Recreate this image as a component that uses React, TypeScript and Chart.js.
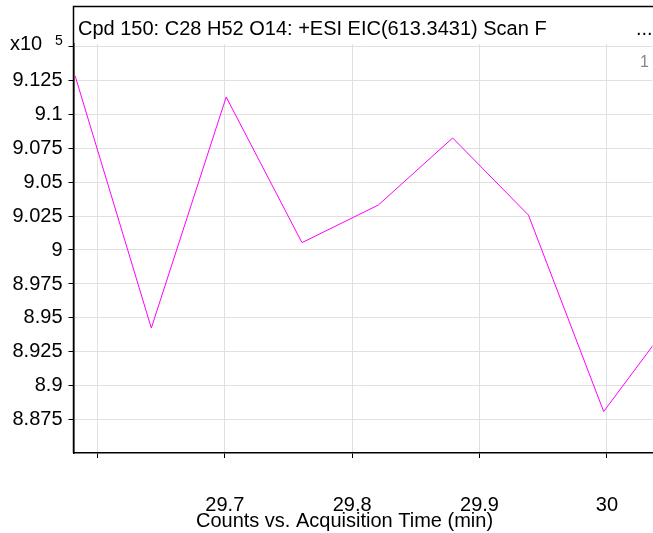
import React, { useEffect, useRef } from "react";
import { Chart, registerables } from "chart.js";

Chart.register(...registerables);

// Acquisition time (min)
const times = [29.5825, 29.6423, 29.7011, 29.7606, 29.8206, 29.8789, 29.9384, 29.9975, 30.0566];
// Counts (x10^5)
const counts = [9.128, 8.9426, 9.1125, 9.0054, 9.0331, 9.0824, 9.0257, 8.8812, 8.9554];

const xTickValues = [29.6, 29.7, 29.8, 29.9, 30];
const xTickLabels = ["", "29.7", "29.8", "29.9", "30"];
const yTickValues = [8.875, 8.9, 8.925, 8.95, 8.975, 9, 9.025, 9.05, 9.075, 9.1, 9.125, 9.15];
const yTickLabels = ["8.875", "8.9", "8.925", "8.95", "8.975", "9", "9.025", "9.05", "9.075", "9.1", "9.125", ""];

const titleText = "Cpd 150: C28 H52 O14: +ESI EIC(613.3431) Scan F";
const xAxisTitle = "Counts vs. Acquisition Time (min)";

const FONT = "'Liberation Sans', Arial, sans-serif";

const framePlugin = {
  id: "framePlugin",
  afterDraw(chart: any) {
    const ctx = chart.ctx;
    const a = chart.chartArea;
    ctx.save();
    ctx.strokeStyle = "#000";
    ctx.lineWidth = 1.5;
    ctx.beginPath();
    ctx.moveTo(a.left, a.bottom);
    ctx.lineTo(a.left, 6.5);
    ctx.lineTo(chart.width, 6.5);
    ctx.stroke();

    ctx.fillStyle = "#000";
    ctx.textBaseline = "alphabetic";
    ctx.textAlign = "left";
    ctx.font = `20px ${FONT}`;
    ctx.fillText(titleText, 78, 34.5);
    ctx.fillText("...", 636, 34.5);
    ctx.fillText("x10", 10, 50);
    ctx.font = `14px ${FONT}`;
    ctx.fillText("5", 55, 45);

    ctx.fillStyle = "#888";
    ctx.font = `16px ${FONT}`;
    ctx.textAlign = "right";
    ctx.fillText("1", 649, 66.5);

    ctx.fillStyle = "#000";
    ctx.font = `20px ${FONT}`;
    ctx.textAlign = "center";
    ctx.fillText(xAxisTitle, 344.5, 526.5);
    ctx.restore();
  },
};

export default function App() {
  const ref = useRef<HTMLCanvasElement | null>(null);
  useEffect(() => {
    document.body.style.margin = "0";
    const canvas = ref.current;
    if (!canvas) return;
    const chart = new Chart(canvas, {
      type: "line",
      data: {
        datasets: [
          {
            data: times.map((t, i) => ({ x: t, y: counts[i] })),
            borderColor: "#ff00ff",
            borderWidth: 1,
            pointRadius: 0,
            tension: 0,
            fill: false,
          },
        ],
      },
      options: {
        animation: false,
        responsive: false,
        devicePixelRatio: 1,
        layout: { padding: { top: 44, right: 0, left: 0, bottom: 0 } },
        plugins: { legend: { display: false }, tooltip: { enabled: false }, title: { display: false } },
        scales: {
          x: {
            type: "linear",
            min: 29.5812,
            max: 30.0358,
            afterFit(scale: any) {
              scale.height = 80;
            },
            afterBuildTicks(scale: any) {
              scale.ticks = xTickValues.map((v) => ({ value: v }));
            },
            ticks: {
              autoSkip: false,
              maxRotation: 0,
              padding: 35,
              color: "#000",
              font: { family: FONT, size: 20 },
              callback: (value: any, index: number) => xTickLabels[index] ?? "",
            },
            grid: { color: "#e0e0e0", tickColor: "#000", tickLength: 5, lineWidth: 1 },
            border: { display: true, color: "#000", width: 1.5 },
          },
          y: {
            type: "linear",
            min: 8.8507,
            max: 9.1515,
            afterFit(scale: any) {
              scale.width = 73.5;
            },
            afterBuildTicks(scale: any) {
              scale.ticks = yTickValues.map((v) => ({ value: v }));
            },
            ticks: {
              autoSkip: false,
              padding: 6,
              color: "#000",
              font: { family: FONT, size: 20 },
              callback: (value: any, index: number) => yTickLabels[index] ?? "",
            },
            grid: { color: "#e0e0e0", tickColor: "#000", tickLength: 5, lineWidth: 1 },
            border: { display: true, color: "#000", width: 1.5 },
          },
        },
      },
      plugins: [framePlugin],
    });
    return () => chart.destroy();
  }, []);
  return (
    <div style={{ position: "fixed", left: 0, top: 0, width: 653, height: 533, background: "#fff" }}>
      <canvas ref={ref} width={653} height={533} style={{ display: "block" }} />
    </div>
  );
}
